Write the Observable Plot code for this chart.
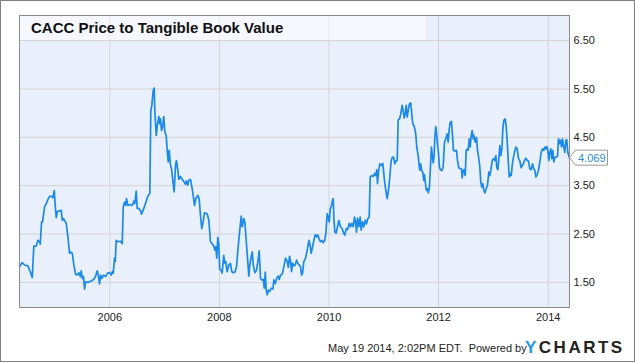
<!DOCTYPE html>
<html><head><meta charset="utf-8">
<script src="https://cdn.jsdelivr.net/npm/d3@7"></script>
<script src="https://cdn.jsdelivr.net/npm/@observablehq/plot@0.6"></script>
<style>
body{margin:0;background:#fff;}
#wrap{position:relative;width:635px;height:362px;overflow:hidden;font-family:"Liberation Sans",Arial,sans-serif;}
#wrap svg{position:absolute;left:0;top:0;}
#border{position:absolute;left:0;top:0;width:633px;height:360px;border:1px solid #808080;pointer-events:none;}
#band{position:absolute;left:20px;top:16px;width:406px;height:24px;background:rgba(255,255,255,0.55);}
#title{position:absolute;left:31px;top:19px;font-weight:bold;font-size:15px;line-height:18px;color:#111;white-space:nowrap;}
#foot{position:absolute;left:328px;top:341px;font-size:11px;line-height:14px;color:#222;white-space:nowrap;}
#logo{position:absolute;left:525px;top:338px;font-size:17px;line-height:20px;font-weight:bold;letter-spacing:2.5px;color:#222;white-space:nowrap;}
#logo span{color:#1a9be0;}
</style></head>
<body>
<div id="wrap">
<div id="chart"></div>
<div id="band"></div>
<div id="title">CACC Price to Tangible Book Value</div>
<div id="foot">May 19 2014, 2:02PM EDT.&nbsp; Powered by</div>
<div id="logo"><span>Y</span>CHARTS</div>
<div id="border"></div>
</div>
<script>
// decimal-year dates
const years = [
2004.352,2004.402,2004.443,2004.504,2004.547,2004.584,2004.613,2004.657,2004.686,2004.717,2004.730,2004.754,2004.772,2004.808,2004.839,2004.869,2004.900,2004.942,2004.960,2004.985,
2005.004,2005.022,2005.040,2005.082,2005.113,2005.131,2005.155,2005.173,2005.204,2005.234,2005.265,2005.283,2005.314,2005.343,2005.374,2005.405,2005.434,2005.460,2005.478,2005.496,
2005.520,2005.538,2005.557,2005.599,2005.661,2005.703,2005.739,2005.770,2005.794,2005.812,2005.830,2005.854,2005.885,2005.922,2005.958,2005.995,
2006.026,2006.044,2006.062,2006.086,2006.099,2006.117,2006.146,2006.195,2006.226,2006.245,2006.268,2006.287,2006.305,2006.329,2006.365,2006.409,2006.438,2006.456,2006.482,2006.500,
2006.529,2006.560,2006.579,2006.610,2006.639,2006.670,2006.693,2006.730,2006.748,2006.767,2006.792,2006.810,2006.821,2006.847,2006.871,2006.894,2006.913,2006.925,2006.944,2006.967,2006.985,
2007.004,2007.029,2007.048,2007.066,2007.084,2007.108,2007.126,2007.150,2007.175,2007.199,2007.217,2007.241,2007.259,2007.290,2007.321,2007.350,2007.381,2007.400,2007.423,2007.442,
2007.473,2007.496,2007.522,2007.546,2007.569,2007.606,2007.631,2007.655,2007.679,2007.704,2007.728,2007.777,2007.807,2007.838,2007.869,2007.898,2007.916,2007.934,2007.953,2007.971,2007.989,
2008.007,2008.033,2008.051,2008.080,2008.099,2008.117,2008.142,2008.172,2008.203,2008.226,2008.252,2008.288,2008.312,2008.343,2008.372,2008.398,2008.416,2008.445,2008.464,2008.489,
2008.518,2008.537,2008.555,2008.580,2008.599,2008.617,2008.646,2008.677,2008.701,2008.726,2008.750,2008.774,2008.799,2008.818,2008.836,2008.854,2008.872,2008.891,2008.914,2008.945,2008.975,2008.993,
2009.018,2009.042,2009.073,2009.091,2009.115,2009.146,2009.175,2009.206,2009.237,2009.256,2009.279,2009.298,2009.316,2009.334,2009.358,2009.383,2009.407,2009.431,2009.456,2009.480,
2009.498,2009.517,2009.540,2009.571,2009.602,2009.632,2009.650,2009.675,2009.699,2009.723,2009.748,2009.772,2009.796,2009.821,2009.845,2009.869,2009.894,2009.923,2009.942,2009.967,2009.985,
2010.004,2010.022,2010.046,2010.064,2010.077,2010.088,2010.106,2010.131,2010.155,2010.179,2010.210,2010.241,2010.270,2010.288,2010.314,2010.338,2010.369,2010.392,2010.416,2010.442,
2010.465,2010.484,2010.502,2010.520,2010.544,2010.569,2010.588,2010.611,2010.635,2010.661,2010.684,2010.708,2010.734,2010.752,2010.776,2010.807,2010.830,2010.854,2010.872,2010.885,2010.903,2010.927,2010.958,2010.982,
2011.013,2011.037,2011.062,2011.086,2011.110,2011.135,2011.159,2011.183,2011.201,2011.226,2011.245,2011.263,2011.287,2011.310,2011.336,2011.354,2011.372,2011.391,2011.409,2011.427,
2011.451,2011.469,2011.493,2011.511,2011.529,2011.560,2011.584,2011.602,2011.628,2011.646,2011.657,2011.675,2011.694,2011.712,2011.730,2011.743,2011.761,2011.779,2011.798,2011.816,
2011.834,2011.852,2011.871,2011.883,2011.902,2011.920,2011.931,2011.949,2011.962,2011.980,2011.998,
2012.017,2012.035,2012.059,2012.084,2012.108,2012.132,2012.157,2012.175,2012.194,2012.212,2012.235,2012.254,2012.272,2012.296,2012.327,2012.345,2012.369,2012.400,2012.418,2012.431,
2012.449,2012.467,2012.486,2012.504,2012.522,2012.540,2012.559,2012.577,2012.595,2012.613,2012.632,2012.642,2012.668,2012.692,2012.710,2012.734,2012.752,2012.770,2012.788,2012.807,
2012.825,2012.843,2012.869,2012.892,2012.916,2012.934,2012.953,2012.978,
2013.002,2013.026,2013.044,2013.062,2013.080,2013.099,2013.117,2013.135,2013.154,2013.172,2013.190,2013.215,2013.234,2013.252,2013.270,2013.288,2013.307,2013.325,2013.343,2013.361,
2013.385,2013.409,2013.434,2013.458,2013.482,2013.507,2013.526,2013.544,2013.568,2013.591,2013.617,2013.641,2013.664,2013.690,2013.714,2013.737,2013.756,2013.774,2013.799,2013.823,
2013.847,2013.872,2013.896,2013.920,2013.938,2013.956,2013.975,2013.993,
2014.011,2014.029,2014.048,2014.066,2014.084,2014.102,2014.121,2014.146,2014.170,2014.188,2014.206,2014.225,2014.243,2014.261,2014.279,2014.303,2014.321,2014.339,2014.358,2014.383,2014.389
];
const ptbv = [
1.82,1.91,1.86,1.84,1.72,1.60,2.25,2.25,2.37,2.34,2.29,2.75,2.75,3.06,3.13,3.21,3.28,3.28,3.25,3.40,
3.06,2.84,2.96,2.98,2.99,2.78,2.82,2.78,2.72,2.44,2.10,2.13,2.10,1.86,1.67,1.65,1.70,1.62,1.74,1.58,
1.62,1.36,1.51,1.50,1.53,1.56,1.62,1.74,1.62,1.47,1.65,1.58,1.65,1.62,1.69,1.70,
1.65,1.72,1.69,2.00,1.93,2.37,2.34,2.35,2.30,3.06,3.16,3.09,3.23,3.09,3.11,3.09,3.18,3.13,3.39,3.03,
3.03,2.98,2.91,3.00,3.09,3.20,3.28,3.34,5.05,5.16,5.47,5.52,5.05,4.54,4.78,4.93,4.78,4.88,4.64,4.74,4.93,
4.61,4.54,4.23,3.99,4.23,3.92,3.85,3.61,3.37,3.92,4.02,3.82,3.63,3.69,3.63,3.59,3.53,3.60,3.51,3.61,
3.63,3.49,3.30,3.09,3.23,3.30,3.23,2.89,2.61,2.75,2.94,2.92,2.79,2.34,2.30,2.25,2.17,2.24,2.00,2.43,2.30,
1.77,1.75,1.69,2.06,1.90,1.93,1.72,1.86,1.89,1.72,1.70,1.72,1.82,2.24,2.58,2.87,2.65,2.82,2.75,2.37,
1.93,1.63,1.86,2.03,2.13,1.86,1.70,1.75,1.93,2.15,1.58,1.55,1.56,1.38,1.71,1.34,1.24,1.34,1.31,1.38,1.36,1.55,
1.47,1.58,1.63,1.56,1.65,1.67,1.82,2.00,1.93,1.81,2.04,1.93,1.72,1.90,1.84,1.86,1.96,1.89,1.86,1.82,
1.65,1.69,1.93,2.00,2.17,2.37,2.30,2.10,2.24,2.37,2.49,2.44,2.48,2.39,2.34,2.37,2.32,2.37,2.52,2.92,2.85,
2.75,3.02,3.09,3.20,3.23,2.85,2.54,2.52,2.65,2.78,2.65,2.61,2.51,2.48,2.61,2.59,2.72,2.65,2.72,2.65,
2.85,2.75,2.54,2.83,2.65,2.85,2.58,2.75,2.65,2.79,2.71,2.82,2.85,3.68,3.71,3.69,3.75,3.71,3.83,3.54,3.78,3.95,3.92,3.96,
3.61,3.40,3.23,3.40,3.68,4.02,4.09,4.08,3.95,4.02,4.02,4.86,4.88,4.98,5.16,5.05,4.90,4.98,5.16,4.92,
5.09,5.19,5.21,4.98,4.79,4.71,4.57,4.30,4.12,3.92,3.82,3.95,3.80,3.78,3.61,3.73,3.54,3.40,3.44,3.35,
3.47,3.88,4.30,4.16,3.97,4.12,4.47,4.72,4.61,4.37,4.19,
3.88,3.83,3.81,3.88,4.40,4.47,4.57,4.40,4.66,4.81,4.83,4.54,4.23,4.22,4.23,4.02,3.87,3.85,3.85,3.66,
3.81,3.83,3.71,4.23,4.26,4.23,4.47,4.30,4.54,4.64,4.47,4.54,4.40,4.50,4.23,4.06,3.88,3.57,3.47,3.54,
3.40,3.35,3.44,3.51,3.78,3.71,3.82,4.02,
4.06,4.02,4.12,3.87,3.83,4.06,4.33,4.12,4.26,4.68,4.85,4.88,4.71,4.40,4.02,3.68,3.75,3.71,3.92,4.06,
4.19,4.30,4.26,4.06,4.01,3.87,3.92,3.95,4.02,4.07,4.02,4.01,3.85,3.83,3.95,3.85,3.82,3.68,3.73,3.82,
3.99,4.19,4.26,4.23,4.30,4.26,4.31,4.23,
4.02,4.19,4.26,4.06,4.23,3.99,4.08,4.09,4.11,4.47,4.37,4.44,4.30,4.47,4.33,4.19,4.44,4.45,4.19,4.10,4.069
];
const xTickYears = [2006, 2008, 2010, 2012, 2014];
const yTicks = [1.5, 2.5, 3.5, 4.5, 5.5, 6.5];
const lastLabel = "4.069";

function toDate(y) {
  const yr = Math.floor(y);
  const a = Date.UTC(yr, 0, 1), b = Date.UTC(yr + 1, 0, 1);
  return new Date(a + (y - yr) * (b - a));
}
const data = years.map((y, i) => ({date: toDate(y), value: ptbv[i]}));
const xTicks = xTickYears.map(y => new Date(Date.UTC(y, 0, 1)));
const last = data[data.length - 1];

const plot = Plot.plot({
  width: 635,
  height: 362,
  marginLeft: 19,
  marginRight: 66,
  marginTop: 15,
  marginBottom: 55,
  style: {fontFamily: "'Liberation Sans', Arial, sans-serif", fontSize: "11px", color: "#333", background: "transparent", overflow: "visible"},
  x: {type: "utc", domain: [data[0].date, last.date]},
  y: {domain: [0.98, 7.02]},
  marks: [
    Plot.frame({fill: "#eaf0fb"}),
    Plot.gridX(xTicks, {stroke: "#d3d3d3", strokeOpacity: 1}),
    Plot.gridY(yTicks, {stroke: "#d3d3d3", strokeOpacity: 1}),
    Plot.axisX(xTicks, {tickSize: 0, tickPadding: 6, tickFormat: d3.utcFormat("%Y"), label: null, fill: "#222"}),
    Plot.axisY(yTicks, {anchor: "right", tickSize: 0, tickPadding: 4, tickFormat: d3.format(".2f"), label: null, fill: "#222"}),
    Plot.line(data, {x: "date", y: "value", stroke: "#1a8ae8", strokeWidth: 1.7, strokeLinejoin: "round"}),
    Plot.frame({stroke: "#8a8a8a", strokeWidth: 1})
  ]
});
document.getElementById("chart").appendChild(plot);

// last value callout, positioned through the plot's own scales
const sx = plot.scale("x"), sy = plot.scale("y");
const px = sx.apply(last.date), py = sy.apply(last.value);
const g = d3.select(plot).append("g").attr("transform", `translate(${px},${py})`);
g.append("path")
  .attr("d", "M0.5,0 L6.5,-7.5 H38.5 V7.5 H6.5 Z")
  .attr("fill", "#fff").attr("stroke", "#999").attr("stroke-width", 1);
g.append("text").attr("x", 9).attr("y", 0).attr("dy", "0.35em")
  .attr("text-anchor", "start")
  .attr("fill", "#2a8de0").attr("font-size", "11px").attr("font-family", "'Liberation Sans', Arial, sans-serif").text(lastLabel);
</script>
</body></html>
